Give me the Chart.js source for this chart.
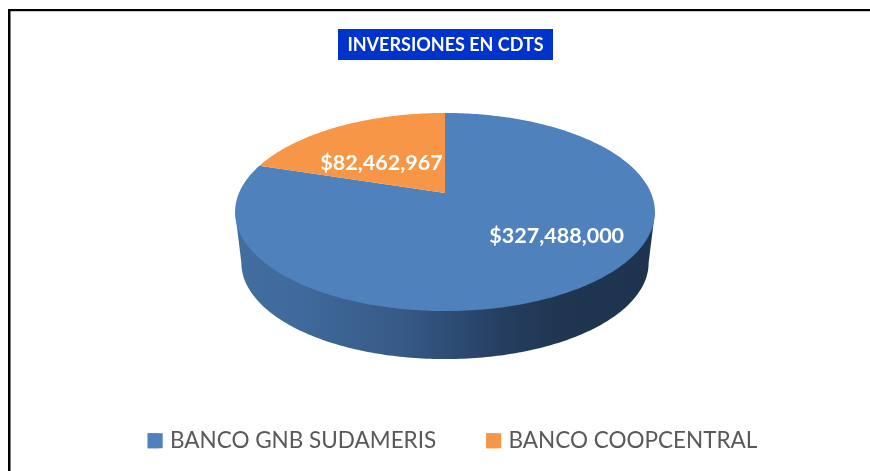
<!DOCTYPE html>
<html><head><meta charset="utf-8">
<style>html,body{margin:0;padding:0;background:#fff;overflow:hidden}canvas{display:block}</style>
<script src="https://cdn.jsdelivr.net/npm/chart.js@4"></script></head>
<body><canvas id="c" width="870" height="471"></canvas>
<script>
const categories = ['BANCO GNB SUDAMERIS', 'BANCO COOPCENTRAL'];
const values = [327488000, 82462967];
const valueLabels = ['$327,488,000', '$82,462,967'];
const sliceColors = ['#4F81BD', '#F79646'];
const chartTitle = 'INVERSIONES EN CDTS';

// perspective of the tilted disc
const P = {cx:445, cy:193, a:206, b:95.4, k:-0.192, wallDy:51, wallScale:0.97, midY:212};
const labelAnchors = [[0.50,0.406],[-0.329,-0.347]];
const project = (u,v)=>{const d=1+P.k*v;return [P.cx+P.a*u/d, P.cy+P.b*v/d];};
const wallPt = (u,v)=>{const p=project(u,v);return [P.cx+(p[0]-P.cx)*P.wallScale, P.midY+P.wallDy+(p[1]-P.midY)*P.wallScale];};

const tiltedPie = {
  id:'tiltedPie',
  afterLayout(chart){
    chart.titleBlock.left-=7; chart.titleBlock.right-=7;
  },
  beforeDraw(chart){
    const ctx=chart.ctx;
    ctx.save();
    ctx.fillStyle='#fff';ctx.fillRect(0,0,870,471);
    // page frame
    ctx.fillStyle='#c8c8c8';ctx.fillRect(10,11,860,1);
    ctx.fillStyle='#000';ctx.fillRect(8,9,862,2);ctx.fillRect(8,9,2.5,462);
    // title plate
    ctx.fillStyle='#0033CC';ctx.fillRect(338,29,215,31);
    ctx.restore();
  },
  beforeDatasetDraw(chart,args){
    const ctx=chart.ctx, meta=args.meta;
    ctx.save();
    // side wall: lower rim of the disc pushed down, from widest point to widest point
    const sw=Math.asin(-P.k);
    const g=ctx.createLinearGradient(235,0,655,0);
    g.addColorStop(0,'#426D9F');g.addColorStop(0.15,'#3F6A9B');g.addColorStop(0.39,'#375A87');
    g.addColorStop(0.5,'#2F4E77');g.addColorStop(0.63,'#263F61');g.addColorStop(0.78,'#1F3550');g.addColorStop(1,'#1E344E');
    ctx.fillStyle=g;ctx.beginPath();
    const left=project(Math.cos(Math.PI-sw),Math.sin(Math.PI-sw));
    const right=project(Math.cos(sw),Math.sin(sw));
    ctx.moveTo(left[0],left[1]);
    for(let i=0;i<=180;i++){const t=(Math.PI-sw)+(sw-(Math.PI-sw))*i/180;const w=wallPt(Math.cos(t),Math.sin(t));ctx.lineTo(w[0],w[1]);}
    ctx.lineTo(right[0],right[1]);
    ctx.closePath();ctx.fill();
    // top face, from the library's arc angles
    meta.data.forEach((arc,i)=>{
      const {startAngle,endAngle}=arc.getProps(['startAngle','endAngle'],true);
      ctx.beginPath();const o=project(0,0);ctx.moveTo(o[0],o[1]);
      const n=Math.max(8,Math.ceil((endAngle-startAngle)*60));
      for(let s=0;s<=n;s++){const t=startAngle+(endAngle-startAngle)*s/n;const p=project(Math.cos(t),Math.sin(t));ctx.lineTo(p[0],p[1]);}
      ctx.closePath();ctx.fillStyle=sliceColors[i];ctx.fill();
    });
    ctx.font='bold 21.5px Lato';ctx.fillStyle='#fff';ctx.textAlign='center';ctx.textBaseline='middle';
    valueLabels.forEach((t,i)=>{const p=project(labelAnchors[i][0],labelAnchors[i][1]);ctx.fillText(t,p[0],p[1]+1);});
    ctx.restore();
    return false;
  },
  afterDraw(chart){
    // legend swatches are wider than the library's fixed box-to-text gap allows
    const ctx=chart.ctx;
    ctx.save();
    chart.legend.legendHitBoxes.forEach((h,i)=>{
      ctx.fillStyle=sliceColors[i];
      ctx.fillRect(h.left,h.top+h.height/2-7.5,15,15);
    });
    ctx.restore();
  }
};

new Chart(document.getElementById('c'),{
  type:'pie',
  data:{labels:categories,datasets:[{data:values,backgroundColor:sliceColors,borderWidth:0}]},
  options:{
    responsive:false,animation:false,
    layout:{padding:{left:35,bottom:9}},
    plugins:{
      tooltip:{enabled:false},
      title:{display:true,text:chartTitle,color:'#fff',font:{family:'Lato',size:18,weight:'bold'},padding:{top:34,bottom:10}},
      legend:{position:'bottom',labels:{color:'#595959',font:{family:'Lato',size:22.5},boxWidth:11,boxHeight:15,padding:50}}
    }
  },
  plugins:[tiltedPie]
});
</script></body></html>
